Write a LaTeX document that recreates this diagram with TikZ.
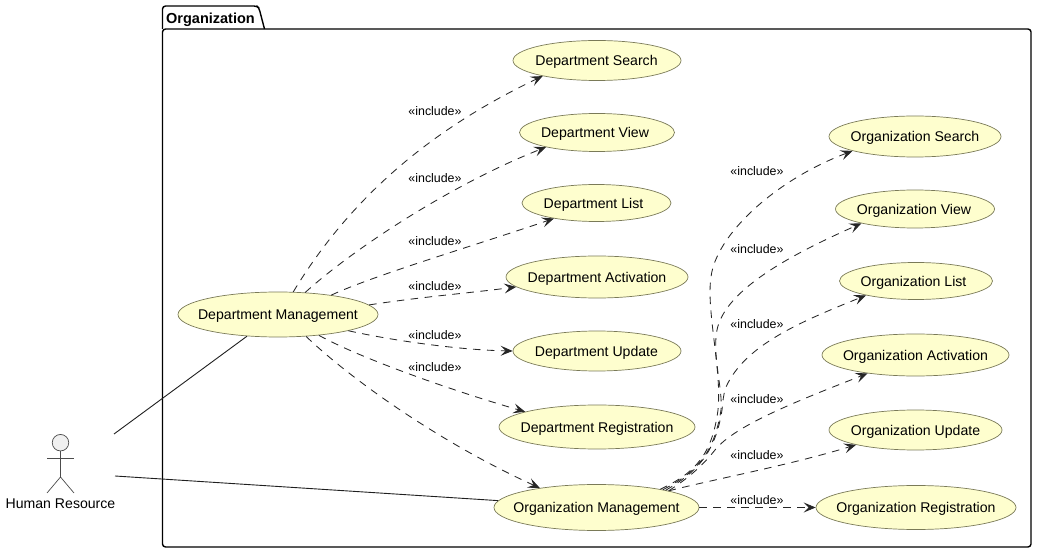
\documentclass[tikz,border=0pt]{standalone}
\usepackage{fontspec}
\setmainfont{Liberation Sans}
\usetikzlibrary{shapes.geometric,arrows.meta}
\newcommand{\uctext}[2][0pt]{\raisebox{-0.36em}[0pt][0pt]{\makebox[0pt]{\hspace{#1}#2}}}
\definecolor{ucfill}{HTML}{FEFECE}
\definecolor{ucline}{HTML}{7A7A58}
\tikzset{
  usecase/.style={ellipse,draw=ucline,fill=ucfill,line width=0.7pt,inner sep=0pt,font=\fontsize{14.1}{16}\selectfont},
  inc/.style={draw=black!85,line width=0.85pt,dash pattern=on 7.5pt off 6.5pt,-{Stealth[length=12pt,width=10pt,inset=5pt]}},
  assoc/.style={draw=black!88,line width=0.9pt},
  lbl/.style={font=\fontsize{12.4}{14}\selectfont,inner sep=0pt},
  actorline/.style={draw=black!70,line width=0.7pt},
  pkg/.style={draw=black,line width=1.4pt,line join=round}
}
\begin{document}
\begin{tikzpicture}[x=1pt,y=-1pt]
\useasboundingbox (0,0) rectangle (1037,553);
% package
\draw[pkg,rounded corners=3pt] (162.5,29) -- (162.5,6) -- (257,6) -- (259,8) -- (264.5,29);
\draw[pkg,rounded corners=3pt] (162.5,29) -- (1031,29) -- (1031,547) -- (162.5,547) -- cycle;
\node[font=\fontsize{14.5}{16}\selectfont\bfseries,inner sep=0pt,anchor=base west] (pkgname) at (166,23.6) {Organization};
\coordinate (hrA) at (114,434);
\coordinate (hrB) at (115,476);
% use cases
\node[usecase,minimum width=200pt,minimum height=45pt] (dm) at (278,314.5) {\uctext{Department Management}};
\node[usecase,minimum width=205pt,minimum height=46pt] (om) at (596.5,507.5) {\uctext{Organization Management}};
\node[usecase,minimum width=168pt,minimum height=40pt] (ds) at (597,60.5) {\uctext[-1pt]{Department Search}};
\node[usecase,minimum width=155pt,minimum height=38pt] (dv) at (597,132.5) {\uctext[-4pt]{Department View}};
\node[usecase,minimum width=149pt,minimum height=37pt] (dl) at (596.5,203) {\uctext[-6pt]{Department List}};
\node[usecase,minimum width=182pt,minimum height=42pt] (da) at (597,277) {\uctext{Department Activation}};
\node[usecase,minimum width=168pt,minimum height=40pt] (du) at (597,351) {\uctext[-1pt]{Department Update}};
\node[usecase,minimum width=196pt,minimum height=44pt] (dr) at (597,427) {\uctext{Department Registration}};
\node[usecase,minimum width=172pt,minimum height=41pt] (os) at (915,136.5) {\uctext{Organization Search}};
\node[usecase,minimum width=159pt,minimum height=38pt] (ov) at (915,209) {\uctext[-2pt]{Organization View}};
\node[usecase,minimum width=153pt,minimum height=37pt] (ol) at (916,281) {\uctext[-5pt]{Organization List}};
\node[usecase,minimum width=187pt,minimum height=42pt] (oa) at (915.5,355) {\uctext{Organization Activation}};
\node[usecase,minimum width=173pt,minimum height=40pt] (ou) at (915.5,430) {\uctext{Organization Update}};
\node[usecase,minimum width=200pt,minimum height=44pt] (or) at (916,507.5) {\uctext{Organization Registration}};
% actor
\node[circle,draw=black!70,fill=black!6,line width=0.7pt,minimum size=16.5pt,inner sep=0pt] (head) at (60.5,442.7) {};
\coordinate (hip) at (60.5,477);
\coordinate (armL) at (47,458.3);
\coordinate (armR) at (74,458.3);
\coordinate (legL) at (47,493);
\coordinate (legR) at (74,493);
\draw[actorline] (head.south) -- (hip);
\draw[actorline] (armL) -- (armR);
\draw[actorline] (legL) -- (hip) -- (legR);
\node[font=\fontsize{14.1}{16}\selectfont,inner sep=0pt] (hr) at (60.5,504) {Human Resource};
% actor links
\draw[assoc] (hrA) -- (dm.215.6);
\draw[assoc] (hrB) -- (om.176);
% includes: department
\draw[inc] (dm.56.3) .. controls (355,190) and (440,125) .. (ds.196.3);
\draw[inc] (dm.39.8) .. controls (352,250) and (450,185) .. (dv.196.5);
\draw[inc] (dm.20.6) .. controls (375,275) and (470,247) .. (dl.200);
\draw[inc] (dm.6.9) .. controls (420,297) and (470,293) .. (da.187);
\draw[inc] (dm.-13.8) .. controls (395,341) and (460,350) .. (du.180);
\draw[inc] (dm.-27.1) .. controls (360,358) and (450,390) .. (dr.168.5);
\draw[inc] (dm.-38.5) .. controls (355,383) and (445,445) .. (om.161);
% includes: organization
\draw[inc] (om.16.8) .. controls (695,473) and (712,455) .. (718,410) .. controls (722,370) and (706,310) .. (711,277) .. controls (716,235) and (775,180) .. (os.193);
\draw[inc] (om.15.6) .. controls (695,473) and (714,455) .. (721,410) .. controls (723,390) and (712,355) .. (717,330) .. controls (725,290) and (790,255) .. (ov.195.4);
\draw[inc] (om.14.5) .. controls (695,473) and (715,455) .. (722,410) .. controls (723,402) and (723,395) .. (726,387) .. controls (745,345) and (800,322) .. (ol.196);
\draw[inc] (om.13.8) .. controls (690,477) and (703,465) .. (715,450) .. controls (735,425) and (800,400) .. (oa.201.8);
\draw[inc] (om.13) .. controls (720,478) and (790,465) .. (ou.194);
\draw[inc] (om.0) -- (or.180);
% labels
\node[lbl] (l1) at (435,111) {«include»};
\node[lbl] (l2) at (435,178) {«include»};
\node[lbl] (l3) at (435,241) {«include»};
\node[lbl] (l4) at (435,286) {«include»};
\node[lbl] (l5) at (435,335) {«include»};
\node[lbl] (l6) at (435,367) {«include»};
\node[lbl] (r1) at (757,171) {«include»};
\node[lbl] (r2) at (757,249) {«include»};
\node[lbl] (r3) at (757,324) {«include»};
\node[lbl] (r4) at (757,399) {«include»};
\node[lbl] (r5) at (757,455) {«include»};
\node[lbl] (r6) at (757,500) {«include»};
\end{tikzpicture}
\end{document}
